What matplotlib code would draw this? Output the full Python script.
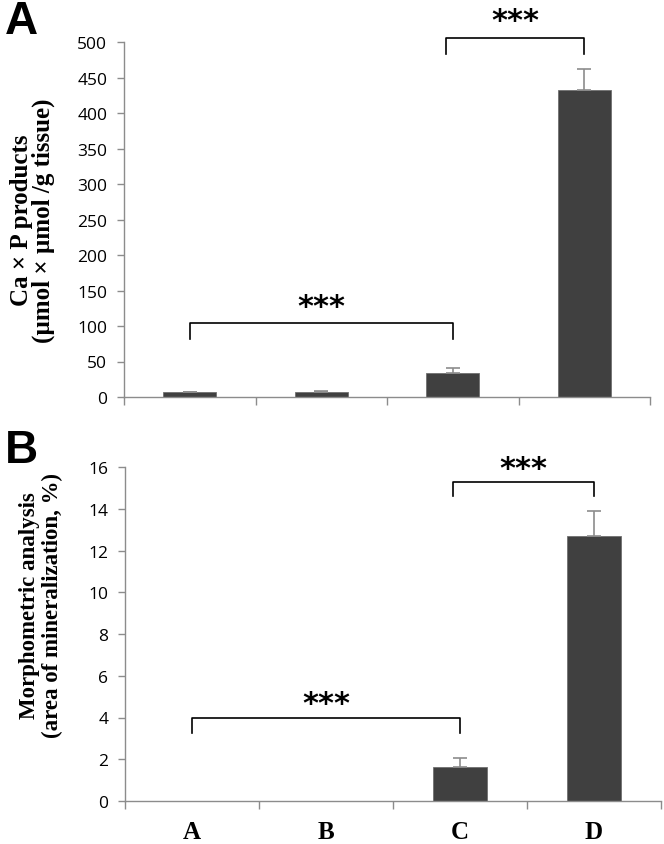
import numpy as np
import matplotlib
matplotlib.use("Agg")
import matplotlib.pyplot as plt

groups = ["A", "B", "C", "D"]

# panel A: Ca x P products
ca_p_mean = [7, 7, 34, 432]
ca_p_err = [0.5, 1, 7, 30]

# panel B: morphometric analysis (% area of mineralization)
morph_mean = [0, 0, 1.65, 12.7]
morph_err = [0, 0, 0.4, 1.2]

W, H = 664, 845
bar_color = "#404040"
axis_color = "#8c8c8c"
tick_font = "Open Sans"
label_font = "Liberation Serif"


def px_axes(fig, left, right, top, bottom):
    return fig.add_axes([left / W, 1 - bottom / H, (right - left) / W, (bottom - top) / H])


def style_axes(ax, ymax, ystep):
    ax.set_xlim(-0.5, 3.5)
    ax.set_ylim(0, ymax)
    for s in ["top", "right"]:
        ax.spines[s].set_visible(False)
    for s in ["left", "bottom"]:
        ax.spines[s].set_color(axis_color)
        ax.spines[s].set_linewidth(1.0)
    ax.set_yticks(np.arange(0, ymax + ystep / 2, ystep))
    ax.tick_params(axis="y", colors=axis_color, length=5, width=1, labelsize=12.5,
                   labelcolor="black", pad=7)
    for lab in ax.get_yticklabels():
        lab.set_fontfamily(tick_font)
    # category boundaries get tick marks, labels sit between them
    ax.set_xticks(np.arange(-0.5, 4, 1.0), minor=True)
    ax.tick_params(axis="x", which="minor", colors=axis_color, length=6, width=1)
    ax.tick_params(axis="x", which="major", length=0)


def bars(ax, mean, err):
    x = np.arange(len(mean))
    ax.bar(x, mean, width=0.4, color=bar_color, edgecolor="#707070", linewidth=0.6, zorder=2)
    err = np.asarray(err, dtype=float)
    keep = err > 0
    ax.errorbar(x[keep], np.asarray(mean)[keep], yerr=[np.zeros(keep.sum()), err[keep]],
                fmt="none", ecolor=axis_color, capsize=5, elinewidth=1.2, capthick=1.2, zorder=3)


def bracket(ax, x0, x1, y, drop, star_y):
    ax.plot([x0, x0, x1, x1], [drop, y, y, drop], color="black", lw=1.2, clip_on=False)
    ax.text((x0 + x1) / 2, star_y, "***", ha="center", va="center", fontsize=22,
            fontweight="bold", fontfamily="DejaVu Sans", clip_on=False)


fig = plt.figure(figsize=(W / 100, H / 100), dpi=100)
x = np.arange(len(groups))

# ---- panel A
axA = px_axes(fig, 124, 650, 43, 398)
bars(axA, ca_p_mean, ca_p_err)
style_axes(axA, 500, 50)
axA.set_xticks(x)
axA.set_xticklabels([])
axA.set_ylabel("Ca × P products\n(µmol × µmol /g tissue)", fontfamily=label_font,
               fontweight="bold", fontsize=18, linespacing=0.95)
axA.yaxis.set_label_coords(-0.131, 0.5)
bracket(axA, 0, 2, 104, 82, 128)
bracket(axA, 1.95, 3, 505, 483, 530)

# ---- panel B
axB = px_axes(fig, 125, 661, 468, 802)
bars(axB, morph_mean, morph_err)
style_axes(axB, 16, 2)
axB.set_xticks(x)
axB.set_xticklabels(groups, fontfamily=label_font, fontweight="bold", fontsize=18)
axB.tick_params(axis="x", which="major", pad=14)
axB.set_ylabel("Morphometric analysis\n(area of mineralization, %)", fontfamily=label_font,
               fontweight="bold", fontsize=16.5, linespacing=1.1)
axB.yaxis.set_label_coords(-0.116, 0.587)
bracket(axB, 0, 2, 4.0, 3.25, 4.65)
bracket(axB, 1.95, 3, 15.3, 14.6, 15.95)

# panel letters
fig.text(5 / W, 1 - 22 / H, "A", fontsize=33, fontweight="bold", fontfamily="Liberation Sans", va="center")
fig.text(5 / W, 1 - 451 / H, "B", fontsize=33, fontweight="bold", fontfamily="Liberation Sans", va="center")

fig.savefig("out.png", dpi=100)
